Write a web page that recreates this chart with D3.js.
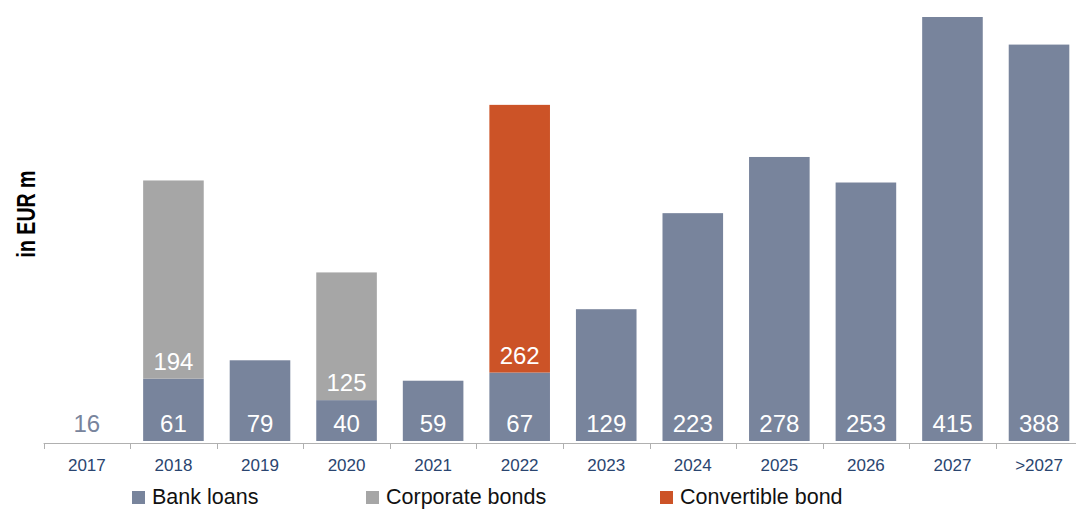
<!DOCTYPE html>
<html><head><meta charset="utf-8">
<script src="https://cdn.jsdelivr.net/npm/d3@7"></script>
<style>body{margin:0;background:#fff}svg{display:block}</style>
</head><body>
<svg id="c" width="1076" height="509"></svg>
<script>
const categories = ["2017","2018","2019","2020","2021","2022","2023","2024","2025","2026","2027",">2027"];
const bankLoans = [16,61,79,40,59,67,129,223,278,253,415,388];
const corporateBonds = [0,194,0,125,0,0,0,0,0,0,0,0];
const convertibleBond = [0,0,0,0,0,262,0,0,0,0,0,0];
const seriesNames = ["Bank loans","Corporate bonds","Convertible bond"];
const seriesColors = ["#78849c","#a6a6a6","#cc5327"];

const svg = d3.select("#c");
const font = "'Liberation Sans', Arial, sans-serif";
const x = d3.scaleBand().domain(categories).range([43.6, 1082.3]).paddingInner(0.3).paddingOuter(0.15);
const y = d3.scaleLinear().domain([0, 415]).range([441, 17]);

const rows = categories.map((c,i)=>({c, vals:[bankLoans[i], corporateBonds[i], convertibleBond[i]]}));

rows.forEach((r,i)=>{
  let base = 0;
  r.vals.forEach((v,s)=>{
    if(!v) return;
    const hidden = (i===0); // 2017 shows label only
    svg.append("rect")
      .attr("x", x(r.c)).attr("width", x.bandwidth())
      .attr("y", y(base+v)).attr("height", y(base)-y(base+v))
      .attr("fill", hidden ? "none" : seriesColors[s]);
    svg.append("text")
      .attr("x", x(r.c)+x.bandwidth()/2)
      .attr("y", y(base)-9)
      .attr("text-anchor","middle")
      .attr("font-family", font).attr("font-size", 24)
      .attr("fill", hidden ? seriesColors[0] : "#ffffff")
      .text(v);
    base += v;
  });
});

// x axis
const step = x.step();
const axisG = svg.append("g");
axisG.append("line").attr("x1", 43.6).attr("x2", 1082.3).attr("y1", 443.5).attr("y2", 443.5)
  .attr("stroke","#b0b0b0").attr("stroke-width",1);
categories.forEach((c,i)=>{
  const bx = 43.6 + i*step;
  axisG.append("line").attr("x1", Math.round(bx)+0.5).attr("x2", Math.round(bx)+0.5)
    .attr("y1",443.5).attr("y2",449).attr("stroke","#b0b0b0");
  axisG.append("text").attr("x", x(c)+x.bandwidth()/2).attr("y", 471)
    .attr("text-anchor","middle").attr("font-family",font).attr("font-size",17)
    .attr("fill","#2a4570").text(c);
});

// y label
svg.append("text").attr("transform","translate(35,214) rotate(-90)")
  .attr("text-anchor","middle")
  .attr("font-family",font)
  .attr("font-weight","bold").attr("font-size",25).attr("fill","#000")
  .attr("textLength", 87).attr("lengthAdjust","spacingAndGlyphs")
  .text("in EUR m");

// legend
const legendX = [132, 366, 660];
seriesNames.forEach((n,i)=>{
  svg.append("rect").attr("x", legendX[i]).attr("y", 491).attr("width",13).attr("height",13)
    .attr("fill", seriesColors[i]);
  svg.append("text").attr("x", legendX[i]+20).attr("y", 504)
    .attr("font-family",font).attr("font-size",21.5).attr("fill","#111").text(n);
});
</script>
</body></html>
